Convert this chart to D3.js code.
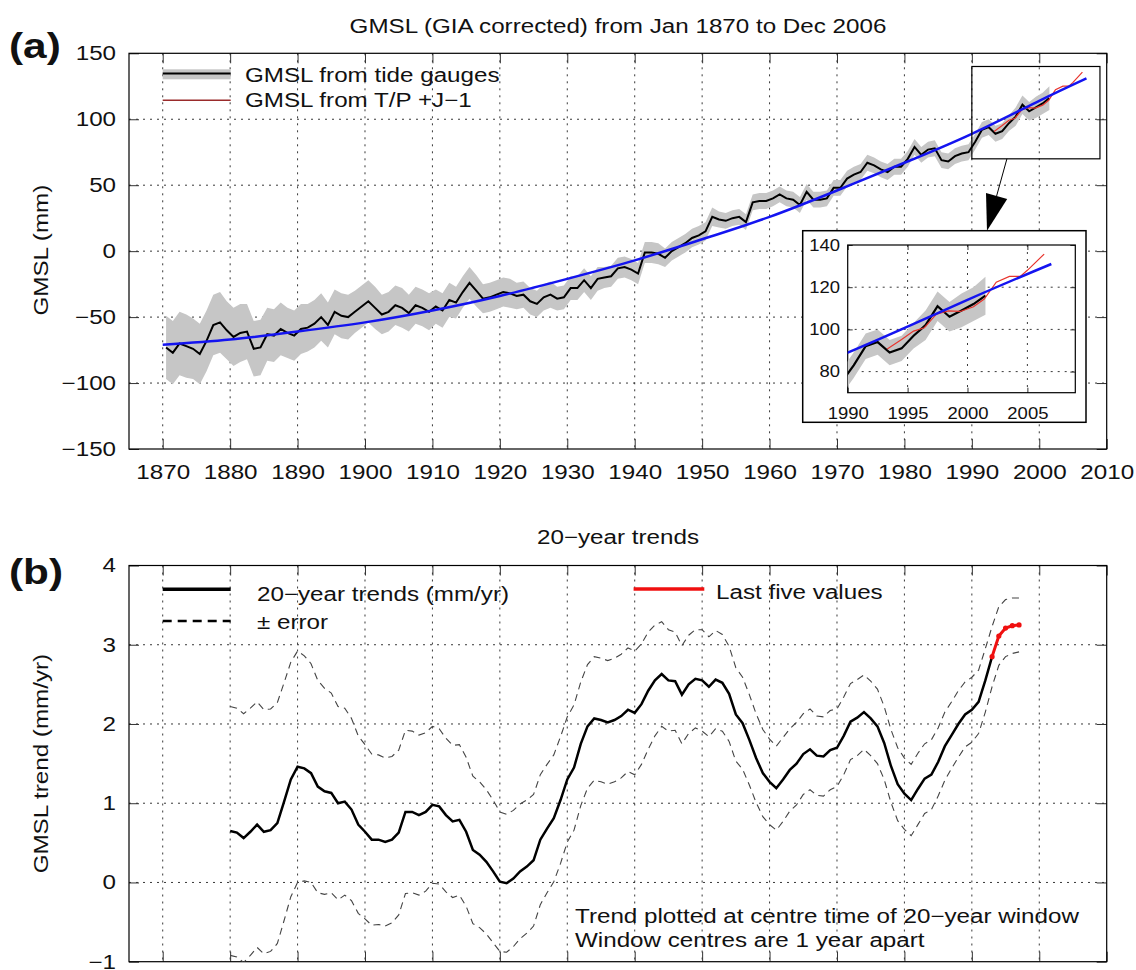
<!DOCTYPE html>
<html>
<head>
<meta charset="utf-8">
<script src="https://cdn.jsdelivr.net/npm/d3@7"></script>
<style>
body { margin: 0; background: #fff; }
svg text { font-family: "Liberation Sans", Arial, Helvetica, sans-serif; fill: #111; }
</style>
</head>
<body>
<svg id="chart" width="1136" height="970"></svg>
<script>

// ---- panel (a): annual GMSL from tide gauges, 1870..2001 (mm)
var gaugeStart = 1870;
var gaugeMm = [
    -73, -77, -70, -72, -74, -78, -68, -56, -54, -60,
    -65, -62, -61, -74, -73, -63, -64, -59, -62, -64,
    -59, -58, -55, -50, -56, -46, -49, -50, -46, -42,
    -38, -43, -48, -46, -41, -43, -47, -41, -43, -46,
    -42, -45, -37, -39, -31, -24, -30, -36, -35, -33,
    -31, -32, -34, -33, -38, -40, -35, -33, -36, -35,
    -28, -28, -22, -28, -21, -20, -19, -13, -12, -14,
    -17, -1, -1, -2, -5, 0, 3, 6, 10, 12,
    15, 26, 24, 23, 25, 26, 22, 37, 38, 38,
    40, 43, 40, 39, 35, 45, 39, 39, 40, 48,
    48, 55, 58, 60, 67, 65, 62, 60, 64, 64,
    70, 79, 73, 77, 78, 69, 68, 72, 74, 75,
    83, 92, 94, 89, 91, 97, 102, 111, 106, 109,
    112, 116
];
// one-sigma error of the tide gauge record (mm)
var gaugeErr = [
    24, 24, 24, 24, 23, 23, 23, 23, 23, 22,
    22, 22, 21, 21, 21, 20, 20, 20, 19, 19,
    19, 18, 18, 18, 17, 17, 17, 17, 16, 16,
    16, 16, 15, 15, 15, 15, 14, 14, 14, 14,
    13, 13, 13, 12, 12, 12, 12, 11, 11, 11,
    11, 11, 10, 10, 10, 10, 10, 10, 9, 9,
    9, 9, 9, 9, 9, 8, 8, 8, 8, 8,
    8, 8, 8, 8, 7, 7, 7, 7, 7, 7,
    7, 7, 6, 6, 6, 6, 6, 6, 6, 6,
    6, 6, 6, 6, 6, 6, 6, 6, 6, 6,
    6, 6, 6, 6, 6, 6, 6, 6, 6, 6,
    6, 6, 6, 6, 6, 6, 6, 6, 6, 6,
    6, 6, 6, 6, 6, 6, 7, 7, 7, 8,
    8, 9
];

// T/P + Jason-1 altimetry
var tpYears = [1993.3, 1994.5, 1995.5, 1996.4, 1997.4, 1998.4, 1999.4, 2000.5, 2001.4, 2002.4, 2003.5, 2004.4, 2005.0, 2006.4];
var tpMm = [90.7, 95.2, 99.2, 100.8, 107.2, 108.8, 108.5, 110.7, 114.4, 122.4, 125.1, 125.1, 128.0, 135.7];

// quadratic fit (blue)
var fitYears = [1870, 1880, 1890, 1900, 1910, 1920, 1930, 1940, 1950, 1960, 1970, 1980, 1990, 2000, 2007];
var fitMm = [-71, -67, -61, -54, -45, -34, -21, -7, 9, 26, 46, 67, 89, 114, 131];

var yearTicks = [1870, 1880, 1890, 1900, 1910, 1920, 1930, 1940, 1950, 1960, 1970, 1980, 1990, 2000, 2010];
var mmTicks = [-150, -100, -50, 0, 50, 100, 150];
var insetYearTicks = [1990, 1995, 2000, 2005];
var insetMmTicks = [80, 100, 120, 140];

// ---- panel (b): 20-year trends, window centres 1880..1997 (mm/yr)
var trendStart = 1880;
var trendVals = [
    0.65, 0.63, 0.56, 0.64, 0.73, 0.64, 0.66, 0.75, 1.02, 1.30,
    1.46, 1.44, 1.38, 1.21, 1.15, 1.13, 1.00, 1.02, 0.92, 0.73,
    0.64, 0.54, 0.54, 0.51, 0.54, 0.63, 0.89, 0.89, 0.85, 0.89,
    0.98, 0.96, 0.85, 0.77, 0.79, 0.64, 0.41, 0.35, 0.26, 0.14,
    0.01, -0.01, 0.05, 0.14, 0.20, 0.28, 0.54, 0.68, 0.81, 1.04,
    1.30, 1.45, 1.75, 1.97, 2.07, 2.05, 2.02, 2.05, 2.10, 2.18,
    2.14, 2.25, 2.42, 2.55, 2.63, 2.55, 2.54, 2.37, 2.50, 2.57,
    2.55, 2.47, 2.56, 2.52, 2.38, 2.12, 2.01, 1.80, 1.57, 1.38,
    1.27, 1.19, 1.30, 1.42, 1.50, 1.62, 1.68, 1.60, 1.59, 1.67,
    1.70, 1.85, 2.03, 2.08, 2.15, 2.07, 1.97, 1.76, 1.47, 1.24,
    1.12, 1.04, 1.18, 1.31, 1.36, 1.52, 1.72, 1.86, 2.00, 2.12,
    2.18, 2.28, 2.55, 2.85, 3.11, 3.21, 3.24, 3.25
];
var trendErr = [
    1.57, 1.57, 1.57, 1.56, 1.55, 1.54, 1.53, 1.52, 1.50, 1.48,
    1.46, 1.42, 1.38, 1.34, 1.30, 1.26, 1.22, 1.18, 1.15, 1.12,
    1.10, 1.08, 1.07, 1.06, 1.05, 1.04, 1.03, 1.02, 1.01, 1.00,
    0.99, 0.98, 0.97, 0.96, 0.95, 0.94, 0.93, 0.92, 0.91, 0.90,
    0.88, 0.87, 0.86, 0.85, 0.84, 0.83, 0.82, 0.81, 0.80, 0.80,
    0.79, 0.79, 0.78, 0.78, 0.78, 0.78, 0.78, 0.78, 0.78, 0.78,
    0.78, 0.76, 0.74, 0.70, 0.66, 0.64, 0.62, 0.62, 0.62, 0.62,
    0.64, 0.63, 0.62, 0.61, 0.60, 0.59, 0.58, 0.57, 0.56, 0.55,
    0.54, 0.53, 0.53, 0.52, 0.52, 0.51, 0.51, 0.50, 0.50, 0.50,
    0.49, 0.49, 0.48, 0.48, 0.47, 0.47, 0.47, 0.46, 0.46, 0.46,
    0.45, 0.45, 0.45, 0.44, 0.44, 0.43, 0.43, 0.42, 0.42, 0.41,
    0.41, 0.40, 0.40, 0.38, 0.37, 0.36, 0.35, 0.34
];
var trendTicks = [-1, 0, 1, 2, 3, 4];


var SX = 1.21;   // lettering in the picture is wider than Liberation Sans
var svg = d3.select("#chart");

var gauge = gaugeMm.map(function(v, i) { return { year: gaugeStart + i + 0.5, mm: v, err: gaugeErr[i] }; });
var tp = tpYears.map(function(d, i) { return { year: d, mm: tpMm[i] }; });
var fit = fitYears.map(function(d, i) { return { year: d, mm: fitMm[i] }; });
var trend = trendVals.map(function(v, i) { return { year: trendStart + i, v: v, err: trendErr[i] }; });

var x = d3.scaleLinear().domain([1865, 2010]).range([129, 1106.7]);
var yA = d3.scaleLinear().domain([-150, 150]).range([449, 53.3]);
var yB = d3.scaleLinear().domain([-1, 4]).range([961.7, 565.5]);
var xi = d3.scaleLinear().domain([1990, 2009]).range([847.7, 1075.3]);
var yi = d3.scaleLinear().domain([70, 140]).range([392.7, 245]);


function label(g, px, py, s, anchor, size, weight, sx) {
    return g.append("text")
        .attr("transform", "translate(" + px + "," + py + ") scale(" + (sx || SX) + ",1)")
        .attr("text-anchor", anchor || "start")
        .style("font-size", (size || 20) + "px")
        .style("font-weight", weight || "normal")
        .text(s);
}

function clip(id, xs, ys) {
    svg.append("clipPath").attr("id", id).append("rect")
        .attr("x", xs.range()[0]).attr("y", ys.range()[1])
        .attr("width", xs.range()[1] - xs.range()[0])
        .attr("height", ys.range()[0] - ys.range()[1]);
}

// dotted grid, inward ticks on all four sides, box, tick labels
function frame(g, xs, ys, xt, yt, o) {
    var x0 = xs.range()[0], x1 = xs.range()[1], y0 = ys.range()[0], y1 = ys.range()[1];

    // gridlines
    g.append("g").selectAll("line")
        .data(xt.filter(function(d) { return xs(d) > x0 + 1 && xs(d) < x1 - 1; }))
        .join("line")
        .attr("x1", function(d) { return xs(d); }).attr("x2", function(d) { return xs(d); })
        .attr("y1", y1).attr("y2", y0)
        .attr("stroke", "#222").attr("stroke-width", 0.9).attr("stroke-dasharray", "2,5");
    g.append("g").selectAll("line")
        .data(yt.filter(function(d) { return ys(d) < y0 - 1 && ys(d) > y1 + 1; }))
        .join("line")
        .attr("y1", function(d) { return ys(d); }).attr("y2", function(d) { return ys(d); })
        .attr("x1", x0).attr("x2", x1)
        .attr("stroke", "#222").attr("stroke-width", 0.9).attr("stroke-dasharray", "2,5");

    var bottom = g.append("g").attr("transform", "translate(0," + y0 + ")")
        .call(d3.axisBottom(xs).tickValues(xt).tickSize(-o.tick).tickPadding(o.padX)
            .tickFormat(o.xLabels ? d3.format("d") : ""));
    var top = g.append("g").attr("transform", "translate(0," + y1 + ")")
        .call(d3.axisTop(xs).tickValues(xt).tickSize(-o.tick).tickFormat(""));
    var left = g.append("g").attr("transform", "translate(" + x0 + ",0)")
        .call(d3.axisLeft(ys).tickValues(yt).tickSize(-o.tick).tickPadding(o.padY).tickFormat(d3.format("d")));
    var right = g.append("g").attr("transform", "translate(" + x1 + ",0)")
        .call(d3.axisRight(ys).tickValues(yt).tickSize(-o.tick).tickFormat(""));

    [bottom, top, left, right].forEach(function(a) {
        a.attr("font-family", null).attr("font-size", null);
        a.select(".domain").remove();
        a.selectAll(".tick line").attr("stroke", "#333");
        a.selectAll("text")
            .attr("transform", "scale(" + o.sx + ",1)")
            .style("font-size", o.size + "px");
    });
    // empty tick labels are dropped so nothing hangs below the page
    bottom.selectAll("text").filter(function() { return this.textContent === ""; }).remove();

    g.append("rect")
        .attr("x", x0).attr("y", y1).attr("width", x1 - x0).attr("height", y0 - y1)
        .attr("fill", "none").attr("stroke", "#000").attr("stroke-width", 1.2);
}


// ================= panel (a) =================
var ga = svg.append("g");
clip("clipA", x, yA);

label(ga, 618, 33, "GMSL (GIA corrected) from Jan 1870 to Dec 2006", "middle", 20);
label(ga, 9, 58, "(a)", "start", 35, "bold");
ga.append("text")
    .attr("transform", "translate(48," + (yA(0) - 1) + ") rotate(-90) scale(" + SX + ",1)")
    .attr("text-anchor", "middle").style("font-size", "20px")
    .text("GMSL (mm)");

frame(ga, x, yA, yearTicks, mmTicks, { tick: 10, padX: 15.7, padY: 10.7, xLabels: true, sx: SX, size: 20 });

var band = d3.area()
    .x(function(d) { return x(d.year); })
    .y0(function(d) { return yA(d.mm - d.err); })
    .y1(function(d) { return yA(d.mm + d.err); });
var gaugeLine = d3.line()
    .x(function(d) { return x(d.year); })
    .y(function(d) { return yA(d.mm); });
var fitLine = d3.line().curve(d3.curveNatural)
    .x(function(d) { return x(d.year); })
    .y(function(d) { return yA(d.mm); });

var plotA = ga.append("g").attr("clip-path", "url(#clipA)");
plotA.append("path").datum(gauge).attr("d", band).attr("fill", "#c6c6c6");
plotA.append("path").datum(gauge).attr("d", gaugeLine)
    .attr("fill", "none").attr("stroke", "#000").attr("stroke-width", 2);
plotA.append("path").datum(tp).attr("d", gaugeLine)
    .attr("fill", "none").attr("stroke", "#e8352e").attr("stroke-width", 1.2);
plotA.append("path").datum(fit).attr("d", fitLine)
    .attr("fill", "none").attr("stroke", "#1414f0").attr("stroke-width", 2.5);

// legend
ga.append("rect").attr("x", 162.7).attr("y", 69.3).attr("width", 68).attr("height", 10).attr("fill", "#c6c6c6");
ga.append("line").attr("x1", 162.7).attr("x2", 230.7).attr("y1", 73.5).attr("y2", 73.5)
    .attr("stroke", "#000").attr("stroke-width", 1.8);
ga.append("line").attr("x1", 162.7).attr("x2", 230.7).attr("y1", 100.3).attr("y2", 100.3)
    .attr("stroke", "#9a2b2b").attr("stroke-width", 1.4);
label(ga, 245, 82, "GMSL from tide gauges");
label(ga, 245, 107, "GMSL from T/P +J\u22121");

// zoom box and arrow to the inset
ga.append("rect")
    .attr("x", x(1990)).attr("y", yA(140))
    .attr("width", x(2009) - x(1990)).attr("height", yA(70) - yA(140))
    .attr("fill", "none").attr("stroke", "#000").attr("stroke-width", 1.2);

var a0 = [x(1995.2), yA(70)], a1 = [987, 230.7];
var dx = a1[0] - a0[0], dy = a1[1] - a0[1], len = Math.sqrt(dx * dx + dy * dy);
var ux = dx / len, uy = dy / len, headL = 36, headW = 11;
var hb = [a1[0] - ux * headL, a1[1] - uy * headL];
ga.append("line").attr("x1", a0[0]).attr("y1", a0[1]).attr("x2", hb[0]).attr("y2", hb[1])
    .attr("stroke", "#000").attr("stroke-width", 1);
ga.append("polygon")
    .attr("points", [a1, [hb[0] - uy * headW, hb[1] + ux * headW], [hb[0] + uy * headW, hb[1] - ux * headW]]
        .map(function(p) { return p.join(","); }).join(" "))
    .attr("fill", "#000");

// ---- inset
var gi = svg.append("g");
clip("clipI", xi, yi);
gi.append("rect").attr("x", 802.7).attr("y", 230.7).attr("width", 283.3).attr("height", 191.6)
    .attr("fill", "#fff").attr("stroke", "#000").attr("stroke-width", 1.5);

frame(gi, xi, yi, insetYearTicks, insetMmTicks, { tick: 5, padX: 14.2, padY: 6.9, xLabels: true, sx: 1.12, size: 16.5 });

var bandI = d3.area()
    .x(function(d) { return xi(d.year); })
    .y0(function(d) { return yi(d.mm - d.err); })
    .y1(function(d) { return yi(d.mm + d.err); });
var lineI = d3.line()
    .x(function(d) { return xi(d.year); })
    .y(function(d) { return yi(d.mm); });
var fitI = d3.line().curve(d3.curveNatural)
    .x(function(d) { return xi(d.year); })
    .y(function(d) { return yi(d.mm); });

var plotI = gi.append("g").attr("clip-path", "url(#clipI)");
plotI.append("path").datum(gauge).attr("d", bandI).attr("fill", "#c6c6c6");
plotI.append("path").datum(gauge).attr("d", lineI)
    .attr("fill", "none").attr("stroke", "#000").attr("stroke-width", 2.2);
plotI.append("path").datum(tp).attr("d", lineI)
    .attr("fill", "none").attr("stroke", "#e8352e").attr("stroke-width", 1.2);
plotI.append("path").datum(fit).attr("d", fitI)
    .attr("fill", "none").attr("stroke", "#1414f0").attr("stroke-width", 2.5);


// ================= panel (b) =================
var gb = svg.append("g");
clip("clipB", x, yB);

label(gb, 618, 544, "20\u2212year trends", "middle", 20);
label(gb, 9, 584, "(b)", "start", 35, "bold");
gb.append("text")
    .attr("transform", "translate(48," + ((yB(-1) + yB(4)) / 2) + ") rotate(-90) scale(" + SX + ",1)")
    .attr("text-anchor", "middle").style("font-size", "20px")
    .text("GMSL trend (mm/yr)");

// the year labels of this panel fall below the picture, so they are left out
frame(gb, x, yB, yearTicks, trendTicks, { tick: 10, padX: 15.7, padY: 10.7, xLabels: false, sx: SX, size: 20 });

var tLine = d3.line()
    .x(function(d) { return x(d.year); })
    .y(function(d) { return yB(d.v); });
var upper = d3.line()
    .x(function(d) { return x(d.year); })
    .y(function(d) { return yB(d.v + d.err); });
var lower = d3.line()
    .x(function(d) { return x(d.year); })
    .y(function(d) { return yB(d.v - d.err); });

var lastFive = trend.slice(trend.length - 5);
var plotB = gb.append("g").attr("clip-path", "url(#clipB)");
[upper, lower].forEach(function(f) {
    plotB.append("path").datum(trend).attr("d", f)
        .attr("fill", "none").attr("stroke", "#444").attr("stroke-width", 1.1)
        .attr("stroke-dasharray", "7,5");
});
plotB.append("path").datum(trend.slice(0, trend.length - 4)).attr("d", tLine)
    .attr("fill", "none").attr("stroke", "#000").attr("stroke-width", 2.5);
plotB.append("path").datum(lastFive).attr("d", tLine)
    .attr("fill", "none").attr("stroke", "#f01010").attr("stroke-width", 3);
plotB.selectAll("circle").data(lastFive).join("circle")
    .attr("cx", function(d) { return x(d.year); })
    .attr("cy", function(d) { return yB(d.v); })
    .attr("r", 2.6).attr("fill", "#f01010");

// legend
gb.append("line").attr("x1", 162.7).attr("x2", 230.7).attr("y1", 589.3).attr("y2", 589.3)
    .attr("stroke", "#000").attr("stroke-width", 3.5);
gb.append("line").attr("x1", 162.7).attr("x2", 230.7).attr("y1", 621).attr("y2", 621)
    .attr("stroke", "#000").attr("stroke-width", 2.5).attr("stroke-dasharray", "9,6");
gb.append("line").attr("x1", 633.6).attr("x2", 704.3).attr("y1", 589).attr("y2", 589)
    .attr("stroke", "#f01010").attr("stroke-width", 3.5);
label(gb, 257, 601, "20\u2212year trends (mm/yr)");
label(gb, 257, 629, "\u00b1 error");
label(gb, 716, 599, "Last five values");

label(gb, 575, 923, "Trend plotted at centre time of 20\u2212year window");
label(gb, 575, 946.5, "Window centres are 1 year apart");

</script>
</body>
</html>
